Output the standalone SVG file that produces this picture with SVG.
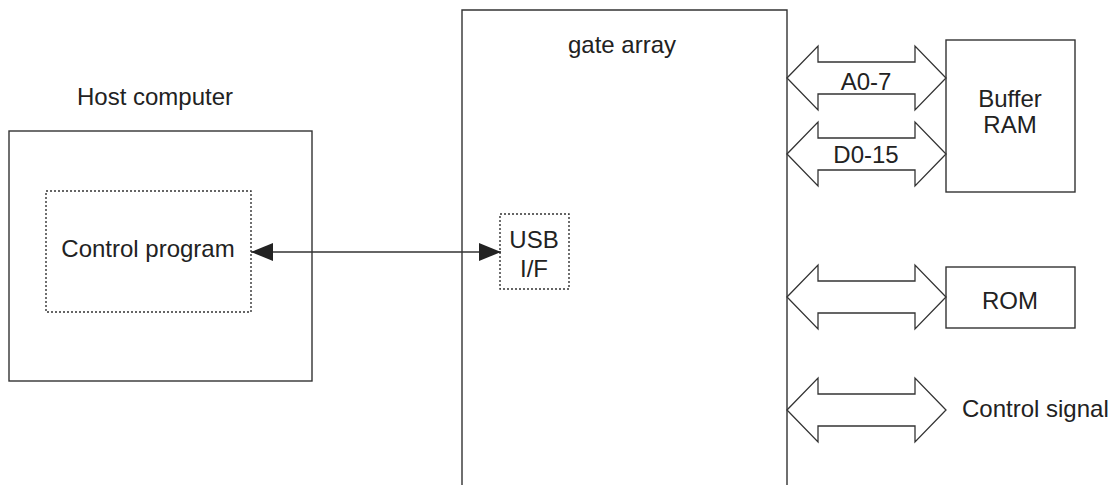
<svg xmlns="http://www.w3.org/2000/svg" width="1112" height="485" viewBox="0 0 1112 485">
  <defs>
    <style>
      .box { fill: none; stroke: #333; stroke-width: 1.4; }
      .dot { fill: none; stroke: #333; stroke-width: 1.4; stroke-dasharray: 2 2; }
      .bus { fill: #fff; stroke: #333; stroke-width: 1.3; stroke-linejoin: miter; }
      .wire { fill: none; stroke: #333; stroke-width: 1.6; }
      text { font-family: "Liberation Sans", Arial, sans-serif; font-size: 24px; fill: #222; }
      .c { text-anchor: middle; }
    </style>
    <marker id="head" viewBox="0 0 22 18" refX="22" refY="9" markerWidth="22" markerHeight="18" markerUnits="userSpaceOnUse" orient="auto-start-reverse">
      <path d="M0,0 L22,9 L0,18 Z" fill="#222"/>
    </marker>
    <!-- double-headed bus arrow, centred on y=0, spanning x 0..159 -->
    <path id="busArrow" class="bus" d="M0,0 L31,-32 L31,-16 L128,-16 L128,-32 L159,0 L128,32 L128,16 L31,16 L31,32 Z"/>
  </defs>

  <!-- host side -->
  <g id="host">
    <text class="c" x="155" y="105">Host computer</text>
    <rect class="box" x="9" y="131" width="303" height="250"/>
  </g>
  <g id="control-program">
    <rect class="dot" x="46" y="191" width="205" height="121"/>
    <text class="c" x="148" y="257">Control program</text>
  </g>

  <!-- gate array (open at the bottom) -->
  <g id="gate-array">
    <path class="box" d="M462,485 V10 H787 V485"/>
    <text class="c" x="622" y="53">gate array</text>
  </g>
  <g id="usb-if">
    <rect class="dot" x="500" y="214" width="69" height="75"/>
    <text class="c" x="534" y="248">USB</text>
    <text class="c" x="534" y="277">I/F</text>
  </g>

  <!-- peripherals -->
  <g id="buffer-ram">
    <rect class="box" x="946" y="40" width="129" height="152"/>
    <text class="c" x="1010" y="107">Buffer</text>
    <text class="c" x="1010" y="133">RAM</text>
  </g>
  <g id="rom">
    <rect class="box" x="946" y="267" width="129" height="61"/>
    <text class="c" x="1010" y="309">ROM</text>
  </g>
  <g id="control-signal">
    <text x="962" y="417">Control signal</text>
  </g>

  <!-- connectors -->
  <g id="connectors">
    <line class="wire" x1="251" y1="252" x2="501" y2="252" marker-start="url(#head)" marker-end="url(#head)"/>
    <use href="#busArrow" x="787" y="78"/>
    <use href="#busArrow" x="787" y="154"/>
    <use href="#busArrow" x="787" y="297"/>
    <use href="#busArrow" x="787" y="410"/>
    <text class="c" x="866" y="90">A0-7</text>
    <text class="c" x="866" y="163">D0-15</text>
  </g>
</svg>
